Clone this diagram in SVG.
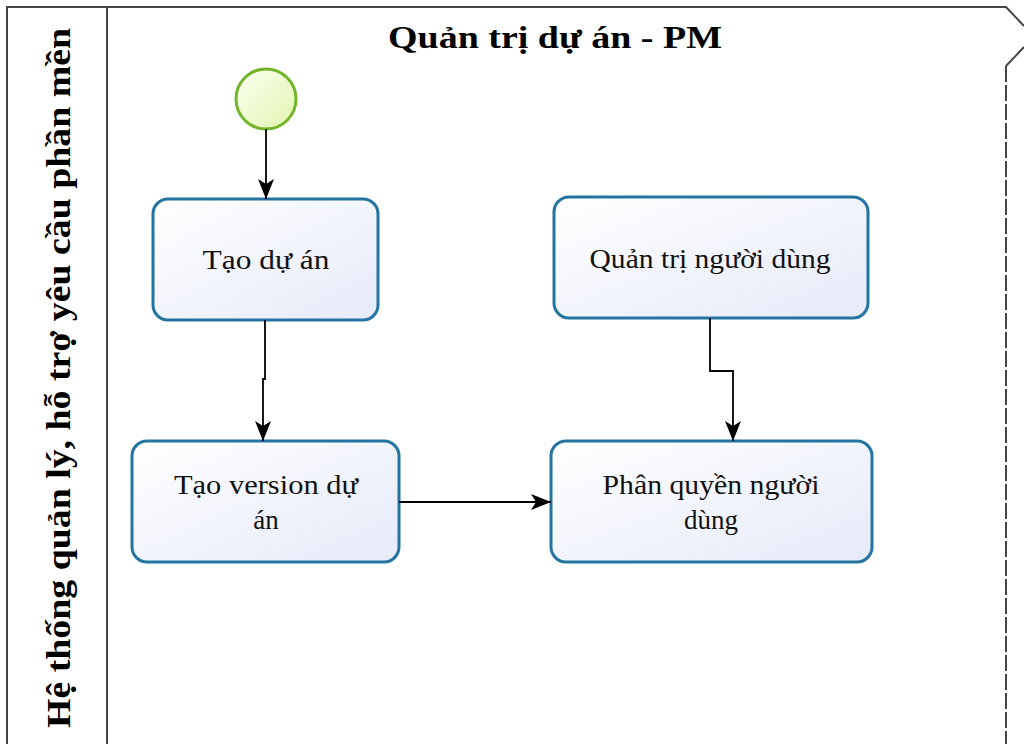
<svg xmlns="http://www.w3.org/2000/svg" width="1024" height="744" viewBox="0 0 1024 744">
<defs>
<linearGradient id="taskFill" x1="0" y1="0" x2="1" y2="1">
<stop offset="0" stop-color="#ffffff"/>
<stop offset="1" stop-color="#e6eaf9"/>
</linearGradient>
<linearGradient id="startFill" x1="0" y1="0" x2="1" y2="1">
<stop offset="0" stop-color="#fbfff0"/>
<stop offset="1" stop-color="#e2f5b0"/>
</linearGradient>
<marker id="arrowBig" viewBox="0 0 20 20" refX="20" refY="10" markerWidth="20" markerHeight="20" markerUnits="userSpaceOnUse" orient="auto">
<path d="M0,2 L20,10 L0,18 L5,10 Z" fill="#000"/>
</marker>
</defs>
<style>
.frame{fill:none;stroke:#444;stroke-width:2}
.task rect{fill:url(#taskFill);stroke:#2474a2;stroke-width:3}
.task text{font-family:"Liberation Serif","Times New Roman",serif;font-size:27px;fill:#111;text-anchor:middle}
.conn path{fill:none;stroke:#000;stroke-width:1.8;marker-end:url(#arrowBig)}
.title{font-family:"Liberation Serif","Times New Roman",serif;font-weight:bold;fill:#000}
</style>
<rect width="1024" height="744" fill="#fff"/>
<g id="pool">
<path class="frame" d="M7,744 V7 H1006 L1024,26"/>
<path class="frame" d="M1024,47 L1006,66"/>
<path class="frame" d="M1006,66 V744" stroke-dasharray="16 3"/>
<path class="frame" d="M107,7 V744"/>
<text class="title" x="555" y="48" font-size="32" text-anchor="middle" textLength="334" lengthAdjust="spacingAndGlyphs">Quản trị dự án - PM</text>
<text class="title" transform="translate(70,378) rotate(-90)" x="0" y="0" font-size="34" text-anchor="middle" textLength="700" lengthAdjust="spacingAndGlyphs">Hệ thống quản lý, hỗ trợ yêu cầu phần mền</text>
</g>
<g id="start">
<circle cx="266" cy="99" r="30" fill="url(#startFill)" stroke="#72b52a" stroke-width="3"/>
</g>
<g id="tao-du-an" class="task">
<rect x="153" y="199" width="225" height="121" rx="15"/>
<text x="266" y="269" textLength="127" lengthAdjust="spacingAndGlyphs">Tạo dự án</text>
</g>
<g id="quan-tri-nguoi-dung" class="task">
<rect x="554" y="197" width="314" height="121" rx="15"/>
<text x="710" y="268" textLength="241" lengthAdjust="spacingAndGlyphs">Quản trị người dùng</text>
</g>
<g id="tao-version" class="task">
<rect x="132" y="441" width="267" height="121" rx="15"/>
<text x="266" y="494" textLength="184" lengthAdjust="spacingAndGlyphs">Tạo version dự</text>
<text x="266" y="529">án</text>
</g>
<g id="phan-quyen" class="task">
<rect x="551" y="441" width="321" height="121" rx="15"/>
<text x="711" y="494" textLength="217" lengthAdjust="spacingAndGlyphs">Phân quyền người</text>
<text x="711" y="529">dùng</text>
</g>
<g id="connectors" class="conn">
<path d="M266,129 V199"/>
<path d="M265,320 V379 H263 V441"/>
<path d="M710,318 V371 H733 V441"/>
<path d="M399,502 H551"/>
</g>
</svg>
